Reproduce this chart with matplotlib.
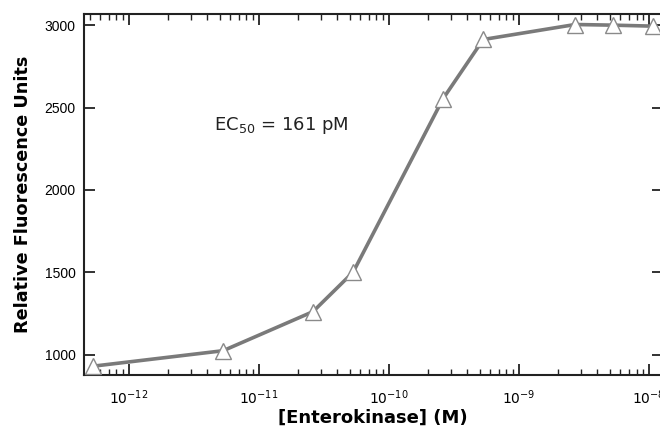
import numpy as np
import matplotlib
matplotlib.use('Agg')
from matplotlib import pyplot as plt
from matplotlib.ticker import FixedLocator, LogLocator, NullFormatter

# enterokinase titration (M) vs fluorescence
conc = [5.3e-13, 5.3e-12, 2.6e-11, 5.3e-11, 2.6e-10, 5.3e-10, 2.7e-9, 5.3e-9, 1.07e-8]
rfu = [930, 1024, 1261, 1501, 2553, 2913, 3004, 3000, 2994]

yticks = [1000, 1500, 2000, 2500, 3000]
xticks = [1e-12, 1e-11, 1e-10, 1e-9, 1e-8]

fig = plt.figure(figsize=(6.6, 4.28), dpi=100)
ax = fig.add_axes([0.127, 0.124, 0.877, 0.843])

ax.plot(conc, rfu, color='#7a7a7a', lw=2.6, marker='^', ms=12,
        mfc='white', mec='#8a8a8a', mew=1.0, zorder=3)

ax.set_xscale('log')
ax.set_xlim(4.5e-13, 1.27e-8)
ax.set_ylim(877, 3067)
ax.set_yticks(yticks)
ax.set_yticklabels([str(v) for v in yticks], fontfamily='Liberation Sans', fontsize=10)
ax.xaxis.set_major_locator(FixedLocator(xticks))
ax.set_xticklabels([r'$10^{%d}$' % int(np.log10(v)) for v in xticks], fontsize=10)
ax.xaxis.set_minor_locator(LogLocator(base=10, subs=np.arange(2, 10), numticks=20))
ax.xaxis.set_minor_formatter(NullFormatter())

ax.tick_params(axis='both', which='major', direction='in', length=8, width=1.3,
               top=True, right=True, color='#222222')
ax.tick_params(axis='x', which='minor', direction='in', length=4, width=1.0,
               top=True, color='#222222')
ax.tick_params(axis='y', which='minor', left=False, right=False)
ax.tick_params(axis='x', pad=10)
ax.tick_params(axis='y', pad=6)

for s in ax.spines.values():
    s.set_linewidth(1.5)
    s.set_color('#222222')

ax.set_xlabel('[Enterokinase] (M)', fontweight='bold', fontsize=13, labelpad=1)
ax.set_ylabel('Relative Fluorescence Units', fontweight='bold', fontsize=12.7, labelpad=9)

ax.text(4.5e-12, 2363, r'EC$_{50}$ = 161 pM', fontsize=13, color='#222222')

fig.savefig('out.png', dpi=100)
